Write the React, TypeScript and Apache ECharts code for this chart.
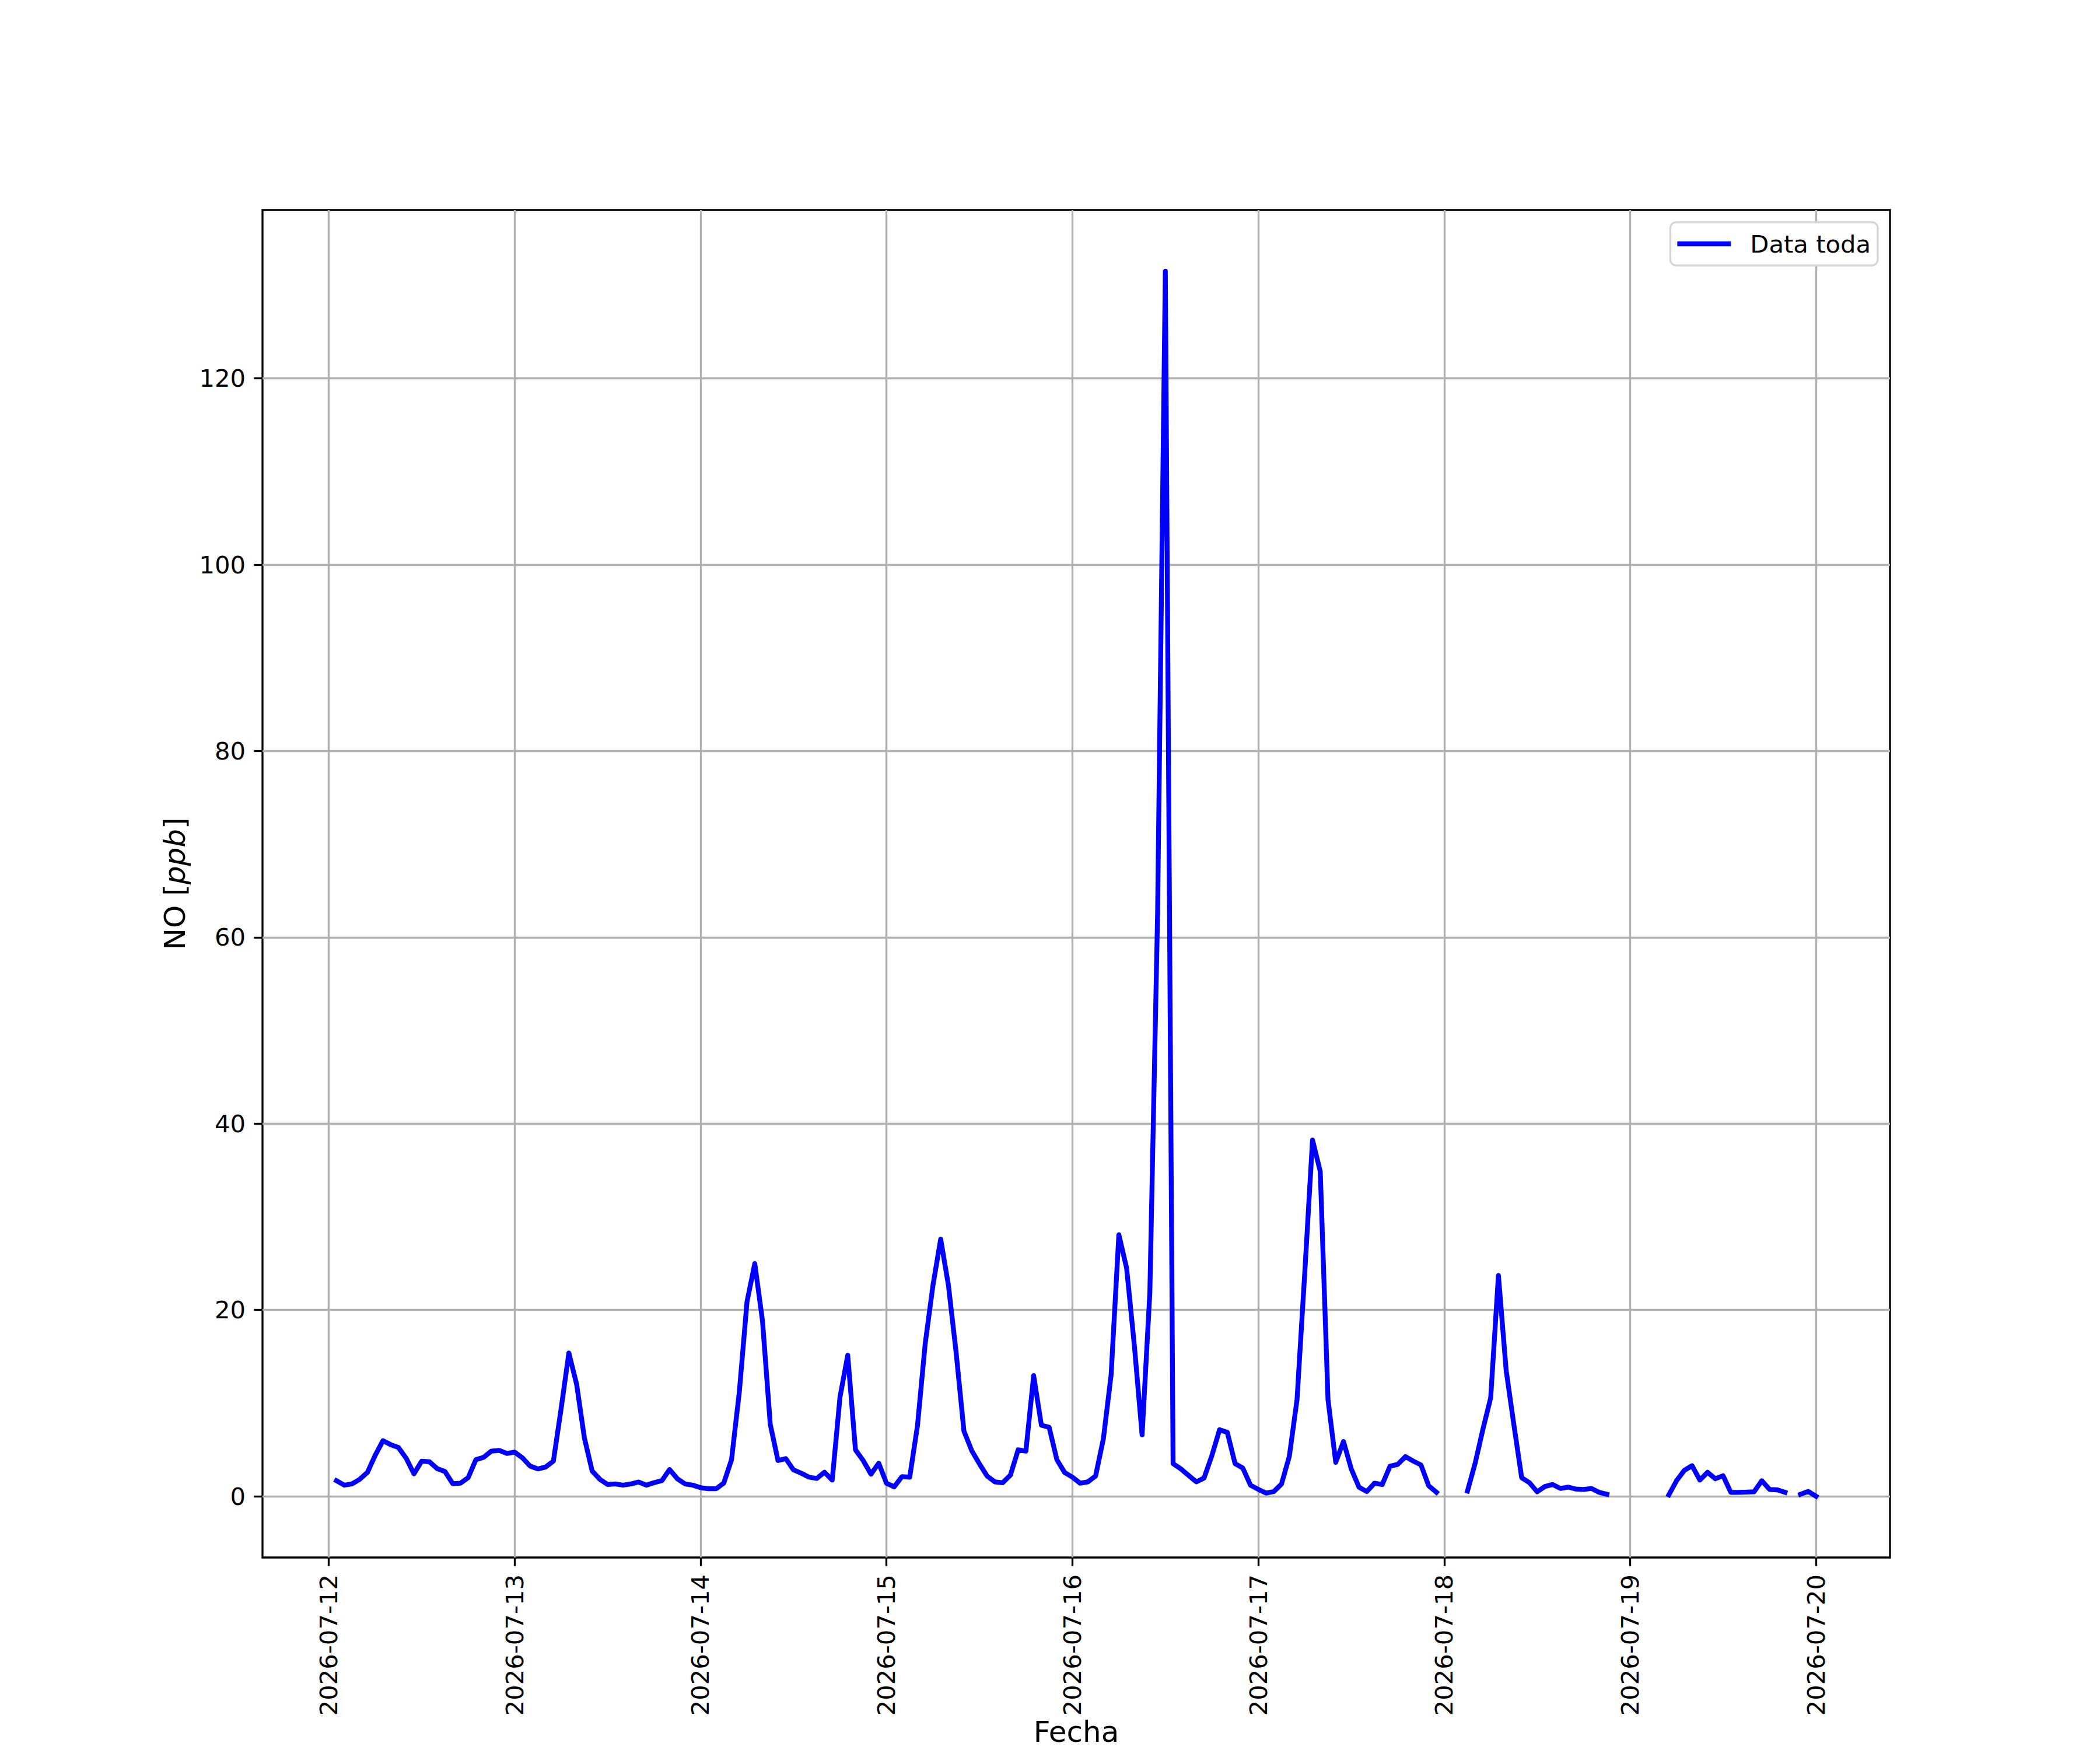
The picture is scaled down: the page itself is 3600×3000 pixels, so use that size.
import React, { useEffect, useRef } from "react";
import * as echarts from "echarts";

// Hourly NO readings, first reading at 2026-07-12 01:00 (UTC labels)
const FIRST_READING = Date.UTC(2026, 6, 12, 1);
const HOUR_MS = 3600000;

// 07-12, 01h..23h
const day12 = [1.67, 1.19, 1.32, 1.82, 2.57, 4.4, 5.96, 5.54, 5.23, 4.08, 2.41, 3.77, 3.7, 2.97, 2.66, 1.36, 1.4, 1.99, 3.93, 4.18, 4.85, 4.92, 4.6];
// 07-13, 00h..23h
const day13 = [4.73, 4.12, 3.24, 2.93, 3.14, 3.77, 9.4, 15.38, 12.03, 6.28, 2.72, 1.82, 1.26, 1.32, 1.19, 1.32, 1.53, 1.19, 1.46, 1.67, 2.87, 1.88, 1.32, 1.19];
// 07-14
const day14 = [0.92, 0.8, 0.8, 1.42, 3.94, 11.16, 20.9, 24.98, 18.8, 7.71, 3.83, 4.04, 2.83, 2.47, 2.05, 1.91, 2.58, 1.74, 10.64, 15.14, 4.98, 3.83, 2.37, 3.55];
// 07-15
const day15 = [1.4, 1.01, 2.11, 2.05, 7.56, 16.37, 22.64, 27.6, 22.64, 15.37, 7.0, 4.91, 3.48, 2.16, 1.54, 1.45, 2.27, 4.98, 4.85, 12.95, 7.62, 7.4, 3.92, 2.55];
// 07-16
const day16 = [2.05, 1.4, 1.54, 2.18, 6.16, 13.03, 28.07, 24.5, 16.2, 6.58, 21.85, 62.5, 131.5, 3.5, 2.94, 2.24, 1.54, 1.96, 4.34, 7.14, 6.86, 3.5, 3.03, 1.18];
// 07-17
const day17 = [0.74, 0.34, 0.5, 1.32, 4.26, 10.36, 24.0, 38.24, 34.87, 10.36, 3.64, 5.88, 2.94, 0.98, 0.5, 1.4, 1.26, 3.22, 3.42, 4.26, 3.78, 3.36, 1.12, 0.42];
// 07-18 (missing hours as null)
const day18 = [null, null, null, 0.55, 3.56, 7.2, 10.56, 23.7, 13.5, 7.64, 1.99, 1.46, 0.48, 1.05, 1.26, 0.84, 0.98, 0.77, 0.73, 0.84, 0.42, 0.21, null, null];
// 07-19
const day19 = [null, null, null, null, null, 0.15, 1.67, 2.78, 3.28, 1.74, 2.57, 1.88, 2.2, 0.42, 0.42, 0.44, 0.48, 1.67, 0.73, 0.69, 0.42, null, 0.21, 0.52];
// 07-20, 00h
const day20 = [0.0];

const dayTicks = ["2026-07-12", "2026-07-13", "2026-07-14", "2026-07-15", "2026-07-16", "2026-07-17", "2026-07-18", "2026-07-19", "2026-07-20"];
const yTicks = [0, 20, 40, 60, 80, 100, 120];
const seriesName = "Data toda";
const xTitle = "Fecha";

const FONT = "DejaVu Sans";

export default function App() {
  const ref = useRef<HTMLDivElement>(null);

  useEffect(() => {
    document.body.style.margin = "0";
    if (!ref.current) return;
    const chart = echarts.init(ref.current, null, { renderer: "svg" });

    const values = [...day12, ...day13, ...day14, ...day15, ...day16, ...day17, ...day18, ...day19, ...day20];
    const data = values.map((v, i) => [FIRST_READING + i * HOUR_MS, v]);
    const valid = values.filter((v) => v !== null) as number[];
    const yMinData = Math.min(...valid);
    const yMaxData = Math.max(...valid);
    const yPad = (yMaxData - yMinData) * 0.05;
    const xFirst = data[0][0] as number;
    const xLast = data[data.length - 1][0] as number;
    const xPad = (xLast - xFirst) * 0.05;
    const tickTimes = dayTicks.map((d) => Date.parse(d + "T00:00:00Z"));

    const gridColor = "#b0b0b0";
    const lw = 3.33;

    chart.setOption({
      animation: false,
      backgroundColor: "#ffffff",
      textStyle: { fontFamily: FONT },
      grid: {
        left: 450,
        right: 360,
        top: 360,
        bottom: 330,
        show: true,
        borderColor: "#000000",
        borderWidth: lw,
        backgroundColor: "#ffffff",
        containLabel: false,
        outerBoundsMode: "none",
      },
      legend: {
        show: true,
        right: 381,
        top: 381,
        orient: "vertical",
        data: [{ name: seriesName, icon: "rect" }],
        itemWidth: 92,
        itemHeight: 8.3,
        padding: [12, 12, 12, 12],
        backgroundColor: "#ffffff",
        borderColor: "#d6d6d6",
        borderWidth: lw,
        borderRadius: 10,
        textStyle: {
          fontFamily: FONT,
          fontSize: 41.7,
          color: "#000000",
          lineHeight: 50,
          padding: [0, 0, 0, 28],
        },
      },
      xAxis: {
        type: "value",
        min: xFirst - xPad,
        max: xLast + xPad,
        name: xTitle,
        nameLocation: "middle",
        nameGap: 279,
        nameMoveOverlap: false,
        nameTextStyle: { fontFamily: FONT, fontSize: 50, lineHeight: 40, color: "#000000", verticalAlign: "top" },
        axisLine: { show: false, onZero: false },
        axisTick: {
          show: true,
          customValues: tickTimes,
          length: 14.6,
          lineStyle: { color: "#000000", width: lw },
        },
        axisLabel: {
          show: true,
          customValues: tickTimes,
          rotate: 90,
          margin: 29,
          fontFamily: FONT,
          fontSize: 41.7,
          color: "#000000",
          formatter: (v: number) => new Date(v).toISOString().slice(0, 10),
        },
        splitLine: { show: true, lineStyle: { color: gridColor, width: lw } },
      },
      yAxis: {
        type: "value",
        min: yMinData - yPad,
        max: yMaxData + yPad,
        name: "NO [{i|ppb}]",
        nameLocation: "middle",
        nameRotate: 90,
        nameGap: 125,
        nameMoveOverlap: false,
        nameTextStyle: {
          fontFamily: FONT,
          fontSize: 50,
          color: "#000000",
          rich: { i: { fontFamily: FONT, fontSize: 50, fontStyle: "italic", color: "#000000" } },
        },
        axisLine: { show: false, onZero: false },
        axisTick: {
          show: true,
          customValues: yTicks,
          length: 14.6,
          lineStyle: { color: "#000000", width: lw },
        },
        axisLabel: {
          show: true,
          customValues: yTicks,
          margin: 29,
          fontFamily: FONT,
          fontSize: 41.7,
          color: "#000000",
        },
        splitLine: { show: true, lineStyle: { color: gridColor, width: lw } },
      },
      series: [
        {
          name: seriesName,
          type: "line",
          data,
          color: "#0000ff",
          showSymbol: false,
          symbol: "none",
          connectNulls: false,
          lineStyle: { color: "#0000ff", width: 8.3, cap: "square", join: "round" },
          emphasis: { disabled: true },
        },
      ],
    });

    return () => {
      chart.dispose();
    };
  }, []);

  return <div ref={ref} style={{ width: 3600, height: 3000 }} />;
}
